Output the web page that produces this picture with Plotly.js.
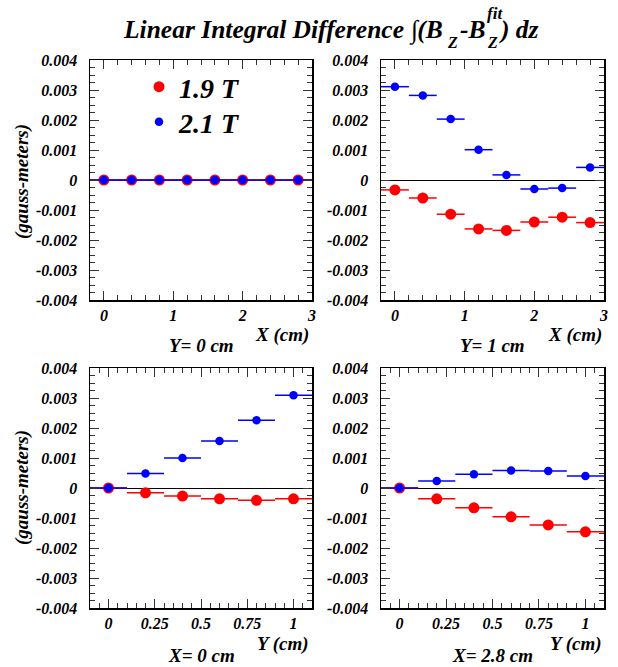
<!DOCTYPE html>
<html>
<head>
<meta charset="utf-8">
<script src="https://cdn.plot.ly/plotly-3.0.1.min.js"></script>
<style>html,body{margin:0;padding:0;background:#fff;}#chart{width:618px;height:667px;}</style>
</head>
<body>
<div id="chart"></div>
<script>
// ---- data ----
const xPositions = [0, 0.4, 0.8, 1.2, 1.6, 2.0, 2.4, 2.8];
const yPositions = [0, 0.2, 0.4, 0.6, 0.8, 1.0];
const xBinHalf = [0.2, 0.2, 0.2, 0.2, 0.2, 0.2, 0.2, 0.2];
const yBinHalf = [0.1, 0.1, 0.1, 0.1, 0.1, 0.1];

// Y = 0 cm (vs X)
const y0_red  = [0, 0, 0, 0, 0, 0, 0, 0];
const y0_blue = [0, 0, 0, 0, 0, 0, 0, 0];
// Y = 1 cm (vs X)
const y1_red  = [-0.00033, -0.00060, -0.00114, -0.00163, -0.00168, -0.00140, -0.00124, -0.00142];
const y1_blue = [0.00311, 0.00282, 0.00203, 0.00101, 0.00017, -0.00030, -0.00027, 0.00042];
// X = 0 cm (vs Y)
const x0_red  = [0, -0.00016, -0.00027, -0.00036, -0.00041, -0.00036];
const x0_blue = [0, 0.00048, 0.00100, 0.00157, 0.00226, 0.00309];
// X = 2.8 cm (vs Y)
const x28_red  = [0, -0.00036, -0.00066, -0.00096, -0.00123, -0.00146];
const x28_blue = [0, 0.00023, 0.00046, 0.00058, 0.00057, 0.00040];

const seriesNames = ['1.9 T', '2.1 T'];
const panelLabels = ['Y= 0 cm', 'Y= 1 cm', 'X= 0 cm', 'X= 2.8 cm'];

const yTickVals = [0.004, 0.003, 0.002, 0.001, 0, -0.001, -0.002, -0.003, -0.004];
const yTickText = ['0.004', '0.003', '0.002', '0.001', '0', '-0.001', '-0.002', '-0.003', '-0.004'];
const xTickValsX = [0, 1, 2, 3];
const xTickTextX = ['0', '1', '2', '3'];
const xTickValsY = [0, 0.25, 0.5, 0.75, 1];
const xTickTextY = ['0', '0.25', '0.5', '0.75', '1'];

// ---- styling ----
const W = 618, H = 667;
const FONT = 'Liberation Serif';
const RED = '#ff0000', BLUE = '#0000ff';
const px = v => v / W;
const py = v => 1 - v / H;

function mk(x, y, err, color, size, xa, ya, name, showleg, leg) {
  return {
    type: 'scatter', mode: 'markers', x: x, y: y, xaxis: xa, yaxis: ya,
    name: name, showlegend: showleg, legend: leg || 'legend',
    marker: {color: color, size: size, line: {width: 0}},
    error_x: {type: 'data', array: err, symmetric: true, color: color, thickness: 1.5, width: 0},
    hoverinfo: 'skip'
  };
}

const traces = [
  mk(xPositions, y0_red, xBinHalf, RED, 11, 'x', 'y', seriesNames[0], true, 'legend'),
  mk(xPositions, y0_blue, xBinHalf, BLUE, 8.5, 'x', 'y', seriesNames[1], true, 'legend2'),
  mk(xPositions, y1_red, xBinHalf, RED, 11, 'x2', 'y2', seriesNames[0], false),
  mk(xPositions, y1_blue, xBinHalf, BLUE, 8.5, 'x2', 'y2', seriesNames[1], false),
  mk(yPositions, x0_red, yBinHalf, RED, 11, 'x3', 'y3', seriesNames[0], false),
  mk(yPositions, x0_blue, yBinHalf, BLUE, 8.5, 'x3', 'y3', seriesNames[1], false),
  mk(yPositions, x28_red, yBinHalf, RED, 11, 'x4', 'y4', seriesNames[0], false),
  mk(yPositions, x28_blue, yBinHalf, BLUE, 8.5, 'x4', 'y4', seriesNames[1], false)
];

const tickFont = {family: FONT, size: 16, weight: 'bold', style: 'italic', color: '#000'};

function xAxis(dom, anchor, range, tv, tt, minorD) {
  return {
    domain: dom, anchor: anchor, range: range, tickmode: 'array', tickvals: tv, ticktext: tt,
    ticks: 'inside', ticklen: 9, tickwidth: 1, tickcolor: '#333', showline: true, linecolor: '#000',
    linewidth: 1.5, mirror: 'ticks', showgrid: false, zeroline: false, tickfont: tickFont,
    ticklabelstandoff: 0,
    minor: {tickmode: 'linear', tick0: 0, dtick: minorD, ticks: 'inside', ticklen: 5, tickcolor: '#333', showgrid: false},
    fixedrange: true
  };
}
function yAxis(dom, anchor) {
  return {
    domain: dom, anchor: anchor, range: [-0.004, 0.004], tickmode: 'array', tickvals: yTickVals, ticktext: yTickText,
    ticks: 'inside', ticklen: 9, tickwidth: 1, tickcolor: '#333', showline: true, linecolor: '#000',
    linewidth: 1.5, mirror: 'ticks', showgrid: false, zeroline: true, zerolinecolor: '#000', zerolinewidth: 1,
    tickfont: tickFont, ticklabelstandoff: 8,
    minor: {tickmode: 'linear', tick0: 0, dtick: 0.00025, ticks: 'inside', ticklen: 5, tickcolor: '#333', showgrid: false},
    fixedrange: true
  };
}

const colL = [px(90), px(312)], colR = [px(381), px(604)];
const rowT = [py(300), py(60)], rowB = [py(608), py(368)];

const annFont = (s) => ({family: FONT, size: s, weight: 'bold', style: 'italic', color: '#000'});
function ann(text, x, y, size, xanchor, angle, yanchor) {
  return {text: text, xref: 'paper', yref: 'paper', x: px(x), y: py(y), xanchor: xanchor || 'center',
          yanchor: yanchor || 'middle', showarrow: false, font: annFont(size), textangle: angle || 0};
}

const annotations = [
  // title pieces
  ann('Linear Integral Difference \u222B(B', 445, 13, 25.5, 'right', 0, 'top'),
  ann('Z', 452.5, 42.5, 16),
  ann('-B', 458, 13, 25.5, 'left', 0, 'top'),
  ann('Z', 492.5, 42.5, 16),
  ann('fit', 495, 14, 17),
  ann(') dz', 497, 13, 25.5, 'left', 0, 'top'),
  // axis labels
  ann('X (cm)', 311, 335, 19, 'right'),
  ann('X (cm)', 604, 335, 19, 'right'),
  ann('Y (cm)', 311, 644, 19, 'right'),
  ann('Y (cm)', 604, 644, 19, 'right'),
  ann(panelLabels[0], 201, 345, 19),
  ann(panelLabels[1], 492, 345, 19),
  ann(panelLabels[2], 201, 655, 19),
  ann(panelLabels[3], 492, 655, 19),
  ann('(gauss-meters)', 22, 182, 19, 'center', -90),
  ann('(gauss-meters)', 22, 488, 19, 'center', -90)
];

const legendBase = (yc) => ({x: px(139), y: py(yc), xanchor: 'left', yanchor: 'middle', bgcolor: 'rgba(0,0,0,0)',
  font: annFont(28), itemsizing: 'trace', borderwidth: 0});

const layout = {
  width: W, height: H, margin: {l: 0, r: 0, t: 0, b: 0},
  paper_bgcolor: '#fff', plot_bgcolor: '#fff',
  showlegend: true,
  legend: legendBase(87),
  legend2: legendBase(122),
  xaxis: xAxis(colL, 'y', [-0.2, 3], xTickValsX, xTickTextX, 0.2),
  yaxis: yAxis(rowT, 'x'),
  xaxis2: xAxis(colR, 'y2', [-0.2, 3], xTickValsX, xTickTextX, 0.2),
  yaxis2: yAxis(rowT, 'x2'),
  xaxis3: xAxis(colL, 'y3', [-0.1, 1.1], xTickValsY, xTickTextY, 0.05),
  yaxis3: yAxis(rowB, 'x3'),
  xaxis4: xAxis(colR, 'y4', [-0.1, 1.1], xTickValsY, xTickTextY, 0.05),
  yaxis4: yAxis(rowB, 'x4'),
  annotations: annotations
};

Plotly.newPlot('chart', traces, layout, {staticPlot: true, displayModeBar: false});
</script>
</body>
</html>
